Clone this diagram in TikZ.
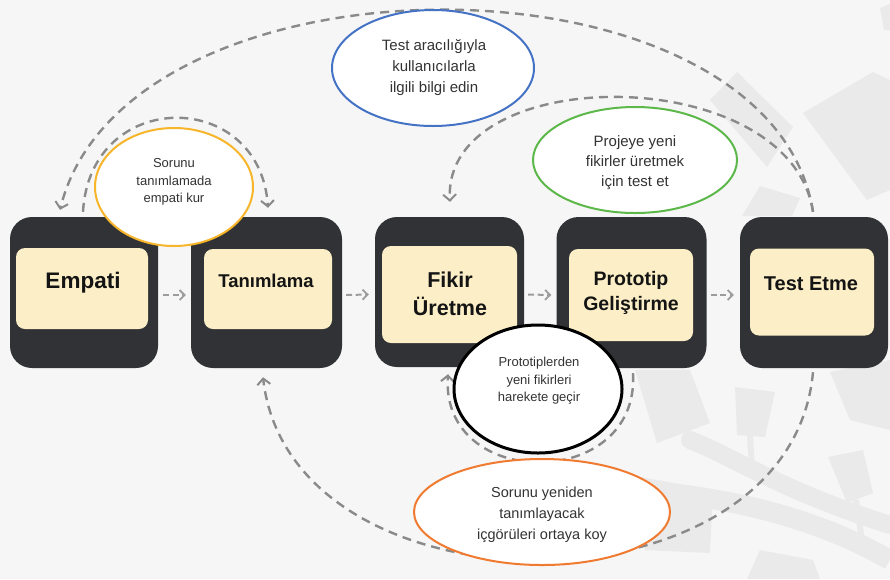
\documentclass[tikz,border=0pt]{standalone}
\usepackage{fontspec}
\setmainfont{Liberation Sans}
\usetikzlibrary{shapes.geometric,arrows.meta}
\definecolor{bg}{HTML}{F6F6F6}
\definecolor{decor}{HTML}{EAEAEA}
\definecolor{boxdark}{HTML}{313235}
\definecolor{cream}{HTML}{FCEFC7}
\definecolor{dashgray}{HTML}{8A8A8A}
\definecolor{stepgray}{HTML}{9C9C9C}
\definecolor{notetext}{HTML}{333333}
\definecolor{blueline}{HTML}{4472C4}
\definecolor{yellowline}{HTML}{F7B52A}
\definecolor{greenline}{HTML}{5DB84A}
\definecolor{orangeline}{HTML}{F07A30}
\tikzset{
  outerbox/.style={rectangle, rounded corners=22pt, fill=boxdark, inner sep=0pt},
  innerbox/.style={rectangle, rounded corners=9pt, fill=cream, inner sep=0pt},
  lbl/.style={text=black!92, align=center, inner sep=0pt},
  bubble/.style={ellipse, fill=white, line width=2pt, inner sep=0pt},
  note/.style={text=notetext, align=center, inner sep=0pt},
  loopline/.style={draw=dashgray, line width=2.4pt, dash pattern=on 9pt off 6pt,
    -{Straight Barb[length=6pt,width=13pt,line width=2pt]}},
  stepline/.style={draw=stepgray, line width=2pt, dash pattern=on 6pt off 3.5pt,
    -{Straight Barb[length=5pt,width=10pt,line width=1.8pt]}}
}
\begin{document}
\begin{tikzpicture}[x=1pt,y=-1pt]
\useasboundingbox[fill=bg] (0,0) rectangle (890,579);

% faint decorative pattern on the right
\begin{scope}[fill=decor]
  \fill (737,72) -- (793,127) -- (767,167) -- (710,100) -- cycle;
  \fill (803,113) -- (873,72) -- (890,80) -- (890,190) -- (867,200) -- cycle;
  \fill (880,8) -- (890,4) -- (890,30) -- (884,30) -- cycle;
  \fill (742,216) -- (760,186) -- (800,198) -- (792,216) -- cycle;
  \fill (635,370) -- (690,370) -- (710,423) -- (657,443) -- cycle;
  \fill (735,387) -- (775,392) -- (765,437) -- (737,435) -- cycle;
  \fill (828,457) -- (863,450) -- (873,493) -- (847,503) -- cycle;
  \fill (640,477) -- (713,490) -- (710,553) -- (645,550) -- cycle;
  \fill (747,579) -- (760,550) -- (813,560) -- (820,579) -- cycle;
  \fill (830,372) -- (890,360) -- (890,430) -- (850,420) -- cycle;
  \draw[decor, line width=18pt, line cap=round] (690,440) .. controls (740,460) and (780,490) .. (890,525);
  \draw[decor, line width=20pt] (660,492) .. controls (740,500) and (820,520) .. (890,560);
  \draw[decor, line width=6pt] (750,435) -- (752,470);
  \draw[decor, line width=6pt] (856,500) -- (862,540);
\end{scope}

% process stages
\node[outerbox, minimum width=148pt, minimum height=151pt] (b1) at (84,292.5) {};
\node[outerbox, minimum width=151pt, minimum height=151pt] (b2) at (266.5,292.5) {};
\node[outerbox, minimum width=149pt, minimum height=150pt] (b3) at (449.5,292) {};
\node[outerbox, minimum width=150pt, minimum height=151pt] (b4) at (631.5,292.5) {};
\node[outerbox, minimum width=148pt, minimum height=151pt] (b5) at (814,292.5) {};

\node[innerbox, minimum width=132pt, minimum height=81pt] (c1) at (82,288.5) {};
\node[innerbox, minimum width=128pt, minimum height=80pt] (c2) at (268,289) {};
\node[innerbox, minimum width=135pt, minimum height=97pt] (c3) at (449.5,294.5) {};
\node[innerbox, minimum width=124pt, minimum height=92pt] (c4) at (631,295) {};
\node[innerbox, minimum width=124pt, minimum height=87pt] (c5) at (812,292) {};

\node[lbl, font=\bfseries\fontsize{22.5}{26}\selectfont] (t1) at (83,283) {Empati};
\node[lbl, font=\bfseries\fontsize{18.5}{22}\selectfont] (t2) at (266,281) {Tanımlama};
\node[lbl, font=\bfseries\fontsize{21.5}{28}\selectfont] (t3) at (450,294) {Fikir\\Üretme};
\node[lbl, font=\bfseries\fontsize{19.5}{25}\selectfont] (t4) at (631,292.5) {Prototip\\Geliştirme};
\node[lbl, font=\bfseries\fontsize{20}{24}\selectfont] (t5) at (811,284) {Test Etme};

% forward steps
\draw[stepline] ([xshift=5pt,yshift=-2.5pt]b1.east) -- ([xshift=-5pt,yshift=-2.5pt]b2.west);
\draw[stepline] ([xshift=4pt,yshift=-2.5pt]b2.east) -- ([xshift=-6pt,yshift=-2.5pt]b3.west);
\draw[stepline] ([xshift=4pt,yshift=-2.5pt]b3.east) -- ([xshift=-5pt,yshift=-2.5pt]b4.west);
\draw[stepline] ([xshift=4pt,yshift=-2.5pt]b4.east) -- ([xshift=-6pt,yshift=-2.5pt]b5.west);

% feedback loops
\coordinate (testtop) at ([xshift=-1pt,yshift=5pt]b5.north);
\coordinate (testbot) at ([xshift=-1pt,yshift=-4pt]b5.south);
\draw[loopline] (testtop) .. controls (770,-57) and (126,-57) .. ([xshift=-24pt,yshift=7pt]b1.north);
\draw[loopline] (testtop) .. controls (790,60.7) and (442,60.7) .. ([xshift=0.5pt,yshift=15pt]b3.north);
\draw[loopline] ([xshift=-1pt,yshift=5pt]b1.north) .. controls (90,87.5) and (260,87.5) .. ([xshift=1.5pt,yshift=9pt]b2.north);
\draw[loopline] ([xshift=1.5pt,yshift=-5pt]b4.south) .. controls (640,491.5) and (440,491.5) .. ([xshift=-1.5pt,yshift=-7pt]b3.south);
\draw[loopline] (testbot) .. controls (790,621.7) and (291,621.7) .. ([xshift=-3.5pt,yshift=-9pt]b2.south);

% loop notes
\node[bubble, draw=blueline, minimum width=202pt, minimum height=116pt] (n1) at (433,68) {};
\node[note, font=\fontsize{15}{21}\selectfont] (m1) at (434,68) {Test aracılığıyla\\kullanıcılarla\\ilgili bilgi edin};

\node[bubble, draw=yellowline, minimum width=158pt, minimum height=118pt] (n2) at (174,187) {};
\node[note, font=\fontsize{13}{17.5}\selectfont] (m2) at (174,182) {Sorunu\\tanımlamada\\empati kur};

\node[bubble, draw=greenline, minimum width=204pt, minimum height=106pt] (n3) at (635,160) {};
\node[note, font=\fontsize{15}{20}\selectfont] (m3) at (635,163) {Projeye yeni\\fikirler üretmek\\için test et};

\node[bubble, draw=black, line width=3pt, minimum width=168pt, minimum height=128pt] (n4) at (538,389) {};
\node[note, font=\fontsize{13}{17.5}\selectfont] (m4) at (539,381) {Prototiplerden\\yeni fikirleri\\harekete geçir};

\node[bubble, draw=orangeline, minimum width=256pt, minimum height=106pt] (n5) at (542,512) {};
\node[note, font=\fontsize{14.5}{21}\selectfont] (m5) at (542,515) {Sorunu yeniden\\tanımlayacak\\içgörüleri ortaya koy};
\end{tikzpicture}
\end{document}
